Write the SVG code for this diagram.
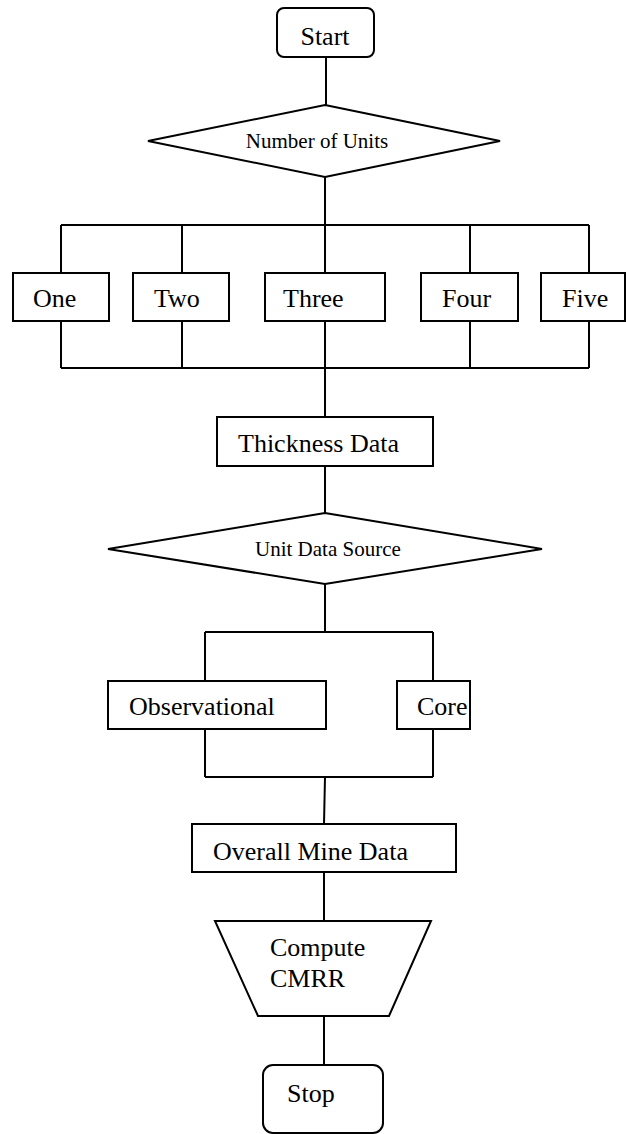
<svg xmlns="http://www.w3.org/2000/svg" width="626" height="1134" viewBox="0 0 626 1134">
<style>
.s{fill:#fff;stroke:#000;stroke-width:2}
.c{fill:none;stroke:#000;stroke-width:2}
.t{font-family:"Liberation Serif","Times New Roman",serif;font-size:26px;fill:#000}
.d{font-family:"Liberation Serif","Times New Roman",serif;font-size:21px;fill:#000}
</style>
<rect width="626" height="1134" fill="#fff"/>
<g id="connectors">
<path class="c" d="M326 57V105"/>
<path class="c" d="M325 177V225"/>
<path class="c" d="M61 225H589"/>
<path class="c" d="M61 225V273M182 225V273M325 225V273M470 225V273M589 225V273"/>
<path class="c" d="M61 321V368M182 321V368M325 321V368M470 321V368M589 321V368"/>
<path class="c" d="M61 368H589"/>
<path class="c" d="M325 368V417"/>
<path class="c" d="M325 466V513"/>
<path class="c" d="M325 584V632"/>
<path class="c" d="M205 632H433"/>
<path class="c" d="M205 632V681M433 632V681"/>
<path class="c" d="M205 729V777M433 729V777"/>
<path class="c" d="M205 777H433"/>
<path class="c" d="M325 777L324 824"/>
<path class="c" d="M324 872V921"/>
<path class="c" d="M324 1016V1065"/>
</g>
<g id="start">
<rect class="s" x="277" y="8" width="97" height="49" rx="7"/>
<text class="t" x="325" y="45" text-anchor="middle">Start</text>
</g>
<g id="units">
<polygon class="s" points="325,105 500,141 325,177 148,141"/>
<text class="d" x="317" y="148" text-anchor="middle">Number of Units</text>
</g>
<g id="one">
<rect class="s" x="13" y="273" width="96" height="48"/>
<text class="t" x="33" y="307">One</text>
</g>
<g id="two">
<rect class="s" x="133" y="273" width="96" height="48"/>
<text class="t" x="154" y="307">Two</text>
</g>
<g id="three">
<rect class="s" x="265" y="273" width="120" height="48"/>
<text class="t" x="283" y="307">Three</text>
</g>
<g id="four">
<rect class="s" x="421" y="273" width="97" height="48"/>
<text class="t" x="442" y="307">Four</text>
</g>
<g id="five">
<rect class="s" x="541" y="273" width="84" height="48"/>
<text class="t" x="562" y="307">Five</text>
</g>
<g id="thickness">
<rect class="s" x="217" y="417" width="216" height="49"/>
<text class="t" x="238" y="452">Thickness Data</text>
</g>
<g id="source">
<polygon class="s" points="325,513 542,549 325,584 108,549"/>
<text class="d" x="255" y="556">Unit Data Source</text>
</g>
<g id="observational">
<rect class="s" x="108" y="681" width="218" height="48"/>
<text class="t" x="129" y="715">Observational</text>
</g>
<g id="core">
<rect class="s" x="397" y="681" width="73" height="48"/>
<text class="t" x="417" y="715">Core</text>
</g>
<g id="overall">
<rect class="s" x="192" y="824" width="264" height="48"/>
<text class="t" x="213" y="860">Overall Mine Data</text>
</g>
<g id="compute">
<polygon class="s" points="215,921 431,921 389,1016 258,1016"/>
<text class="t" x="270" y="956">Compute</text>
<text class="t" x="270" y="987">CMRR</text>
</g>
<g id="stop">
<rect class="s" x="263" y="1065" width="120" height="68" rx="10"/>
<text class="t" x="287" y="1102">Stop</text>
</g>
</svg>
